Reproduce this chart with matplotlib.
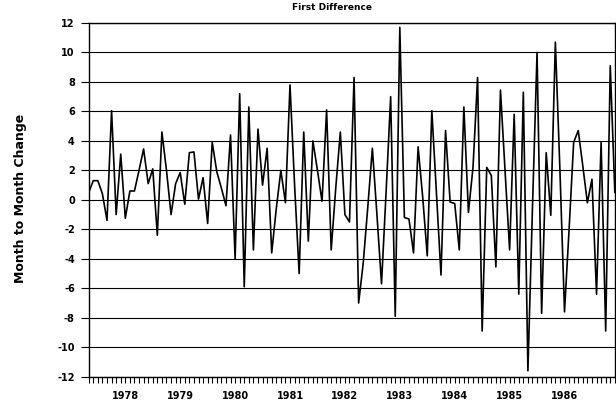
import matplotlib
matplotlib.use("Agg")
import matplotlib.pyplot as plt
import numpy as np

# Month-to-month change, first month is May 1977
start_year = 1977
start_month = 5
changes = [
    0.5, 1.3, 1.3, 0.4, -1.4, 6.05, -1.0, 3.1, -1.25, 0.6, 0.6, 2.0,
    3.45, 1.1, 2.1, -2.4, 4.6, 2.0, -1.0, 1.1, 1.85, -0.3, 3.2, 3.25,
    0.05, 1.5, -1.6, 3.9, 1.9, 0.8, -0.4, 4.4, -4.0, 7.2, -5.9, 6.3,
    -3.4, 4.8, 1.0, 3.5, -3.6, -0.6, 2.0, -0.2, 7.8, 1.0, -5.0, 4.6,
    -2.8, 4.0, 2.0, -0.1, 6.1, -3.4, 0.8, 4.6, -1.0, -1.5, 8.3, -7.0,
    -4.3, -0.5, 3.5, -1.0, -5.7, 0.5, 7.0, -7.9, 11.7, -1.2, -1.3, -3.6,
    3.6, 0.2, -3.8, 6.05, 0.5, -5.1, 4.7, -0.15, -0.25, -3.4, 6.3, -0.85,
    2.2, 8.3, -8.9, 2.2, 1.65, -4.55, 7.45, 2.0, -3.4, 5.8, -6.4, 7.3,
    -11.6, -0.5, 10.0, -7.7, 3.2, -1.05, 10.7, 2.0, -7.6, -2.0, 3.9, 4.7,
    2.3, -0.2, 1.4, -6.4, 3.9, -8.9, 9.1, 0.5,
]
year_labels = [1978, 1979, 1980, 1981, 1982, 1983, 1984, 1985, 1986]
y_ticks = list(range(-12, 13, 2))

plt.rcParams['font.family'] = ['DejaVu Sans']
plt.rcParams['font.weight'] = 'bold'
plt.rcParams['axes.unicode_minus'] = False

t = start_year + (start_month - 1) / 12 + np.arange(len(changes)) / 12

fig = plt.figure(figsize=(6.16, 4.08), dpi=100)
ax = fig.add_axes([0.144, 0.0767, 0.855, 0.867])

ax.plot(t, changes, color='black', lw=1.2)

ax.set_ylim(-12, 12)
ax.set_xlim(t[0], t[-1] + 0.01)
ax.set_yticks(y_ticks)
ax.set_yticklabels([str(v) for v in y_ticks], fontsize=7, fontweight='bold')
ax.set_xticks(year_labels)
ax.set_xticklabels([str(y) for y in year_labels], fontsize=7, fontweight='bold')
ax.set_xticks(t, minor=True)
ax.tick_params(axis='x', which='both', direction='out', length=4, width=0.8, pad=6)
ax.tick_params(axis='y', direction='out', length=6, width=0.8, pad=4)

ax.grid(axis='y', color='black', lw=0.8)
for s in ax.spines.values():
    s.set_linewidth(1.0)

fig.text(0.539, 0.982, 'First Difference', ha='center', va='center',
         fontsize=6.5, fontweight='bold')
fig.text(0.033, 0.515, 'Month to Month Change', ha='center', va='center',
         rotation=90, fontsize=9, fontweight='bold')

fig.savefig('out.png', dpi=100, facecolor='white')
